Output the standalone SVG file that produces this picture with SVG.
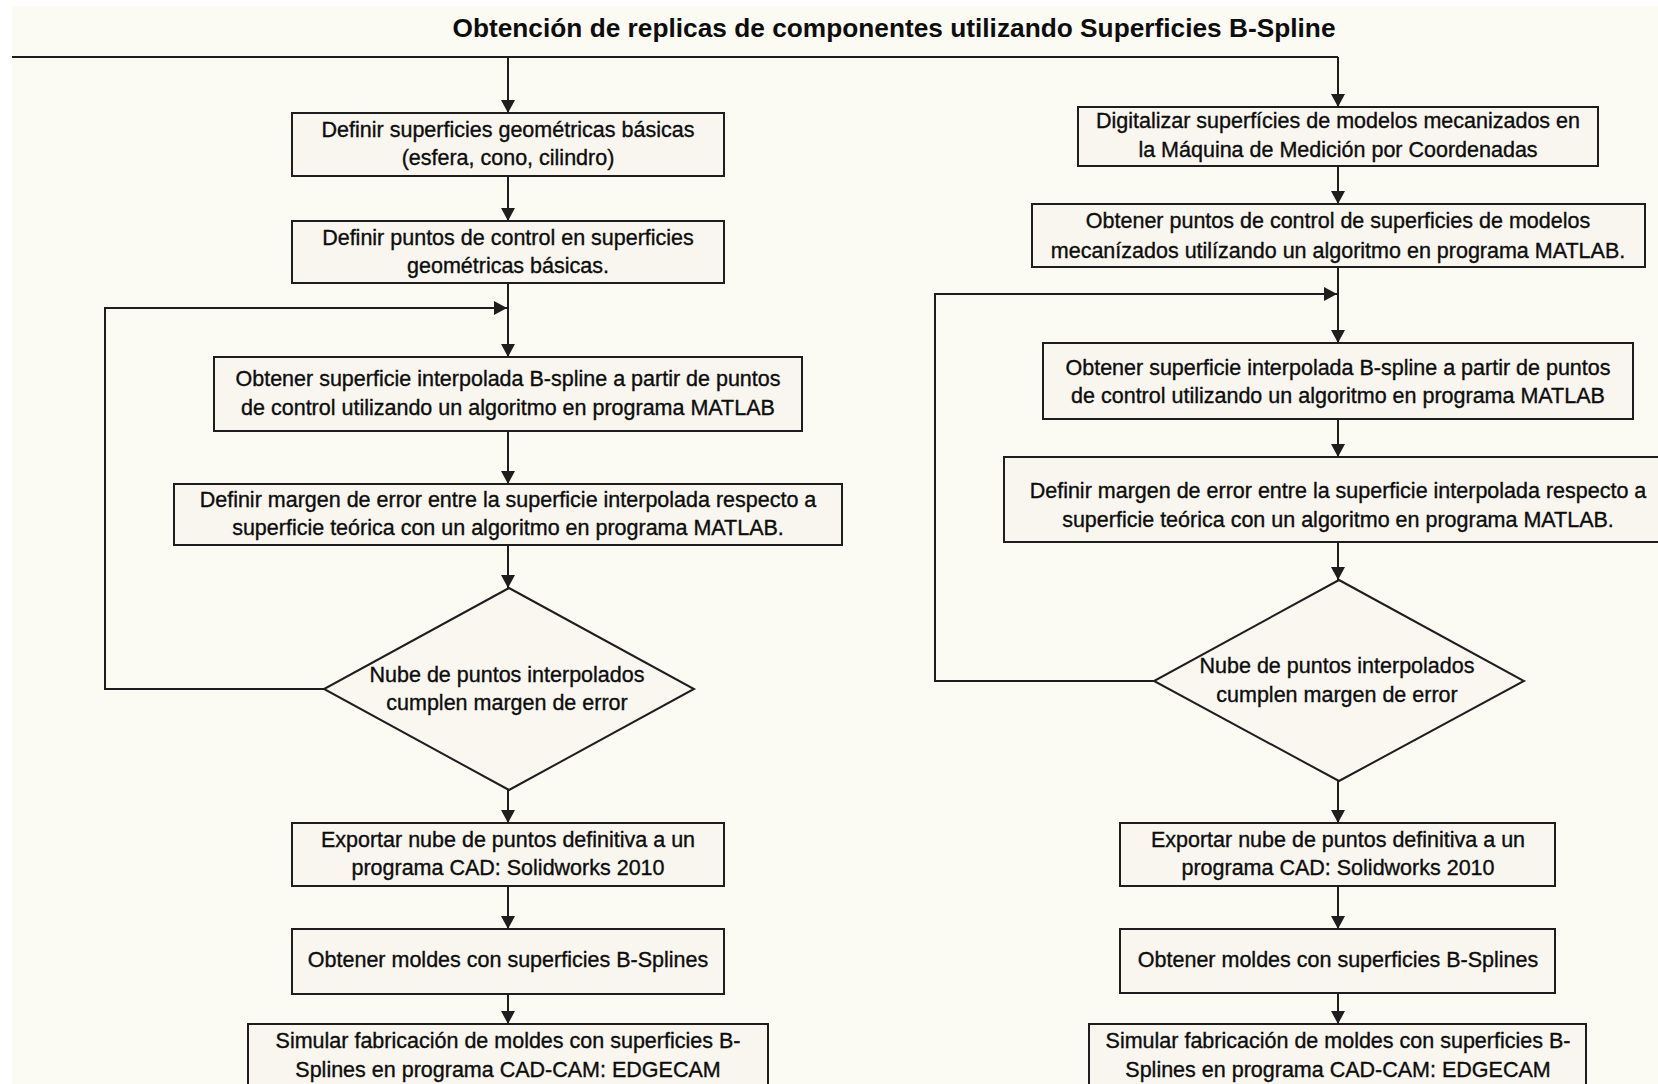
<svg xmlns="http://www.w3.org/2000/svg" width="1658" height="1084" viewBox="0 0 1658 1084">
  <style>
    .box { fill: #f8f6ee; stroke: #1e1e1e; stroke-width: 2; }
    .dec { fill: #f9f7f0; stroke: #1e1e1e; stroke-width: 2; }
    .lbl { font-family: "Liberation Sans", Arial, sans-serif; font-size: 21.5px; fill: #0d0d0d; stroke: #0d0d0d; stroke-width: 0.35; text-anchor: middle; }
    .title { font-family: "Liberation Sans", Arial, sans-serif; font-size: 26px; font-weight: bold; fill: #0d0d0d; text-anchor: middle; }
    .wire { fill: none; stroke: #1e1e1e; stroke-width: 2; }
    .arr { marker-end: url(#head); }
  </style>
  <defs>
    <marker id="head" markerUnits="userSpaceOnUse" markerWidth="14" markerHeight="14" refX="13" refY="7" orient="auto">
      <path d="M0,0 L13,7 L0,14 z" fill="#1e1e1e"/>
    </marker>
  </defs>

  <!-- page -->
  <rect x="0" y="0" width="1658" height="1084" fill="#ffffff"/>
  <rect x="12" y="6" width="1646" height="1078" fill="#fbfaf3"/>

  <text class="title" x="894" y="37" textLength="883" lengthAdjust="spacingAndGlyphs">Obtención de replicas de componentes utilizando Superficies B-Spline</text>

  <!-- connectors -->
  <g id="connectors">
    <path class="wire" d="M12,57 H1338"/>
    <path class="wire arr" d="M1338,57 V107"/>
    <path class="wire arr" d="M508,57 V113"/>

    <path class="wire arr" d="M508,176 V221"/>
    <path class="wire arr" d="M508,283 V357"/>
    <path class="wire arr" d="M508,431 V484"/>
    <path class="wire arr" d="M508,545 V588"/>
    <path class="wire arr" d="M508,790 V823"/>
    <path class="wire arr" d="M508,886 V929"/>
    <path class="wire arr" d="M508,994 V1024"/>
    <path class="wire arr" d="M324,689 H105 V308 H507"/>

    <path class="wire arr" d="M1338,166 V204"/>
    <path class="wire arr" d="M1338,267 V343"/>
    <path class="wire arr" d="M1338,419 V457"/>
    <path class="wire arr" d="M1338,542 V580"/>
    <path class="wire arr" d="M1338,781 V823"/>
    <path class="wire arr" d="M1338,886 V929"/>
    <path class="wire arr" d="M1338,993 V1024"/>
    <path class="wire arr" d="M1154,681 H935 V294 H1337"/>
  </g>

  <!-- left branch -->
  <g id="l1">
    <rect class="box" x="292" y="113" width="432" height="63"/>
    <text class="lbl" x="508" y="137">Definir superficies geométricas básicas</text>
    <text class="lbl" x="508" y="165">(esfera, cono, cilindro)</text>
  </g>
  <g id="l2">
    <rect class="box" x="292" y="221" width="432" height="62"/>
    <text class="lbl" x="508" y="245">Definir puntos de control en superficies</text>
    <text class="lbl" x="508" y="273">geométricas básicas.</text>
  </g>
  <g id="l3">
    <rect class="box" x="214" y="357" width="588" height="74"/>
    <text class="lbl" x="508" y="386">Obtener superficie interpolada B-spline a partir de puntos</text>
    <text class="lbl" x="508" y="415">de control utilizando un algoritmo en programa MATLAB</text>
  </g>
  <g id="l4">
    <rect class="box" x="174" y="484" width="668" height="61"/>
    <text class="lbl" x="508" y="507">Definir margen de error entre la superficie interpolada respecto a</text>
    <text class="lbl" x="508" y="535">superficie teórica con un algoritmo en programa MATLAB.</text>
  </g>
  <g id="l-check">
    <polygon class="dec" points="509,588 694,689 509,790 324,689"/>
    <text class="lbl" x="507" y="682">Nube de puntos interpolados</text>
    <text class="lbl" x="507" y="710">cumplen margen de error</text>
  </g>
  <g id="l5">
    <rect class="box" x="292" y="823" width="432" height="63"/>
    <text class="lbl" x="508" y="847">Exportar nube de puntos definitiva a un</text>
    <text class="lbl" x="508" y="875">programa CAD: Solidworks 2010</text>
  </g>
  <g id="l6">
    <rect class="box" x="292" y="929" width="432" height="65"/>
    <text class="lbl" x="508" y="967">Obtener moldes con superficies B-Splines</text>
  </g>
  <g id="l7">
    <rect class="box" x="248" y="1024" width="520" height="72"/>
    <text class="lbl" x="508" y="1048">Simular fabricación de moldes con superficies B-</text>
    <text class="lbl" x="508" y="1077">Splines en programa CAD-CAM: EDGECAM</text>
  </g>

  <!-- right branch -->
  <g id="r1">
    <rect class="box" x="1078" y="107" width="520" height="59"/>
    <text class="lbl" x="1338" y="128">Digitalizar superfícies de modelos mecanizados en</text>
    <text class="lbl" x="1338" y="157">la Máquina de Medición por Coordenadas</text>
  </g>
  <g id="r2">
    <rect class="box" x="1032" y="204" width="613" height="63"/>
    <text class="lbl" x="1338" y="228">Obtener puntos de control de superficies de modelos</text>
    <text class="lbl" x="1338" y="258">mecanízados utilízando un algoritmo en programa MATLAB.</text>
  </g>
  <g id="r3">
    <rect class="box" x="1043" y="343" width="590" height="76"/>
    <text class="lbl" x="1338" y="375">Obtener superficie interpolada B-spline a partir de puntos</text>
    <text class="lbl" x="1338" y="403">de control utilizando un algoritmo en programa MATLAB</text>
  </g>
  <g id="r4">
    <rect class="box" x="1004" y="457" width="668" height="85"/>
    <text class="lbl" x="1338" y="498">Definir margen de error entre la superficie interpolada respecto a</text>
    <text class="lbl" x="1338" y="527">superficie teórica con un algoritmo en programa MATLAB.</text>
  </g>
  <g id="r-check">
    <polygon class="dec" points="1339,580 1524,681 1339,781 1154,681"/>
    <text class="lbl" x="1337" y="673">Nube de puntos interpolados</text>
    <text class="lbl" x="1337" y="702">cumplen margen de error</text>
  </g>
  <g id="r5">
    <rect class="box" x="1120" y="823" width="435" height="63"/>
    <text class="lbl" x="1338" y="847">Exportar nube de puntos definitiva a un</text>
    <text class="lbl" x="1338" y="875">programa CAD: Solidworks 2010</text>
  </g>
  <g id="r6">
    <rect class="box" x="1120" y="929" width="435" height="64"/>
    <text class="lbl" x="1338" y="967">Obtener moldes con superficies B-Splines</text>
  </g>
  <g id="r7">
    <rect class="box" x="1089" y="1024" width="497" height="72"/>
    <text class="lbl" x="1338" y="1048">Simular fabricación de moldes con superficies B-</text>
    <text class="lbl" x="1338" y="1077">Splines en programa CAD-CAM: EDGECAM</text>
  </g>
</svg>
